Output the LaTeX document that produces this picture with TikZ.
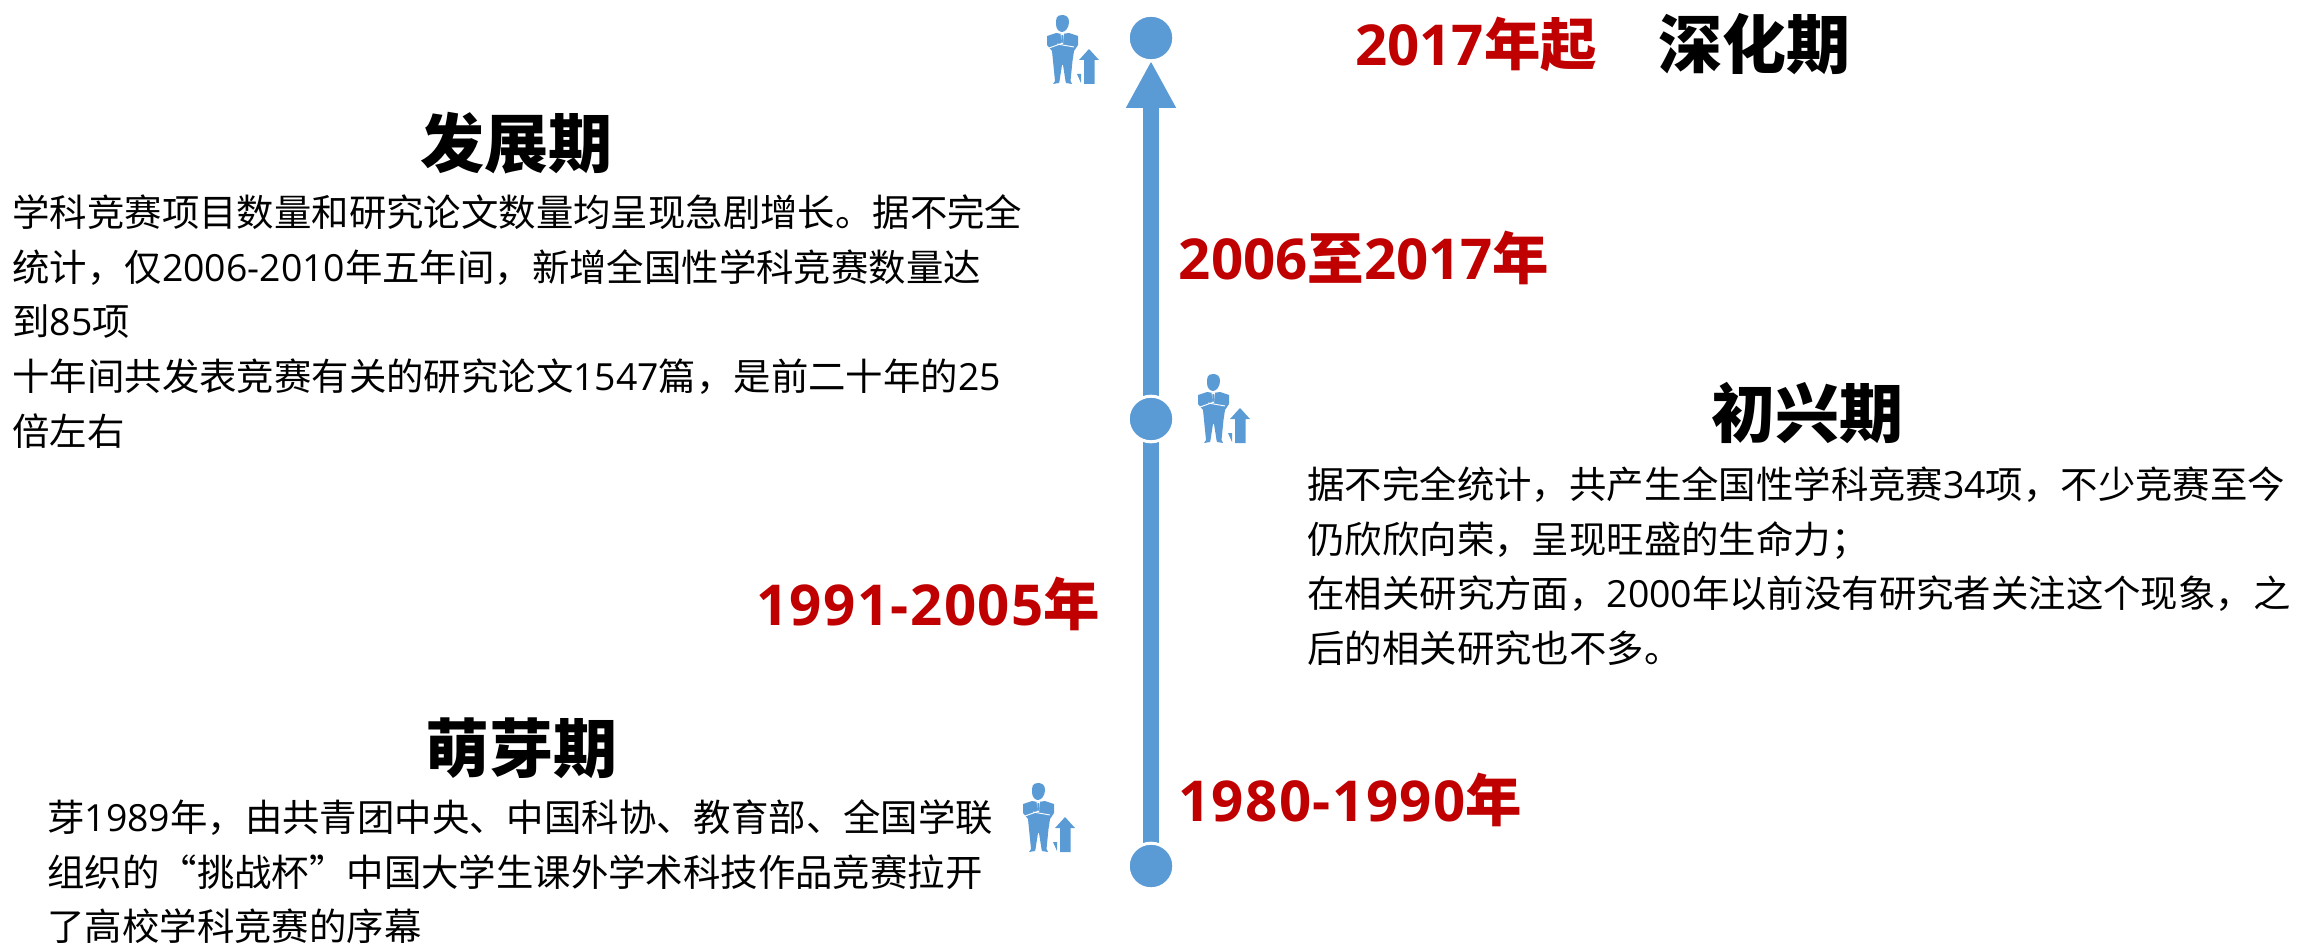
\documentclass[tikz,border=0pt]{standalone}
\usepackage{fontspec}
\setmainfont{Noto Sans CJK SC}
\newfontfamily\latinf{Open Sans}
\newfontfamily\latind[LetterSpace=2.6]{Open Sans}
\newcommand{\lat}[1]{{\latinf #1}}
\newcommand{\datenum}[1]{{\latind #1}}
\usetikzlibrary{arrows.meta,backgrounds}
\definecolor{tlblue}{HTML}{5B9BD5}
\definecolor{datered}{HTML}{C00000}
\tikzset{
  x=0.5pt,y=-0.5pt,
  dot/.style={circle,fill=tlblue,draw=white,line width=1.5pt,minimum size=22.8pt,inner sep=0pt},
  spine/.style={draw=tlblue,line width=8pt},
  title/.style={font=\fontsize{32}{36}\selectfont\bfseries,text=black,inner sep=0pt},
  datelabel/.style={font=\fontsize{28.2}{32}\selectfont\bfseries,text=datered,inner sep=0pt},
  bodytext/.style={font=\fontsize{18.7}{27.4}\selectfont,text=black,align=left,anchor=north west,inner sep=0pt},
  personicon/.pic={
    \fill[tlblue] (15,0) .. controls (9,0) and (9,4) .. (9,9) .. controls (9,14) and (12,17) .. (15,17)
      .. controls (18,17) and (22,13) .. (22,7) .. controls (22,2) and (19,0) .. (15,0) -- cycle;
    \fill[tlblue] (0,21) -- (9,18) -- (15,19) -- (22,18) -- (31,21) -- (31,30) -- (27,36) -- (25.5,46)
      -- (23.5,66) -- (25,69) -- (19,68) -- (18.5,66) -- (16,50) -- (15,50) -- (12.5,66) -- (12,68) -- (6,69) -- (8,66)
      -- (6,46) -- (5,36) -- (0,30) -- cycle;
    \draw[white,line width=0.45pt] (2,33) -- (16,28);
    \draw[white,line width=0.45pt] (10,29) -- (27,32);
    \fill[white] (13.5,18.5) -- (17,18.5) -- (16,29) -- (15,29) -- cycle;
    \fill[tlblue] (14.5,20) -- (16.2,20) -- (16.5,26) -- (15.3,28) -- (14.2,26) -- cycle;
    \fill[tlblue] (42,34) -- (52,45) -- (47.5,45) -- (47.5,69) -- (37,69) -- (37,45) -- (32,45) -- cycle;
    \fill[tlblue] (30,59) -- (34,59) -- (34,68) -- cycle;
  }
}
\begin{document}
\begin{tikzpicture}
\useasboundingbox (0,0) rectangle (2300,946);
\node[dot] (c3) at (1151,38) {};
\node[dot] (c2) at (1151,419) {};
\node[dot] (c1) at (1151,866) {};
\coordinate (tip) at (1151,61);
\begin{pgfonlayer}{background}
\draw[spine] (c1.center) -- (c2.center);
\draw[spine,-{Triangle[length=23.5pt,width=23.5pt]}] (c2.center) -- (tip);
\end{pgfonlayer}
\pic at (1047,15) {personicon};
\pic at (1198,374) {personicon};
\pic at (1023,783) {personicon};
\node[datelabel] (d4) at (1476,44) {\lat{2017}年起};
\node[title] (t4) at (1754,44) {深化期};
\node[datelabel] (d3) at (1364,258) {\lat{2006}至\lat{2017}年};
\node[datelabel] (d2) at (928,604) {\datenum{1991-2005}年};
\node[datelabel] (d1) at (1350,800) {\datenum{1980-1990}年};
\node[title] (t3) at (516,143) {发展期};
\node[bodytext] (b3) at (12,194) {学科竞赛项目数量和研究论文数量均呈现急剧增长。据不完全\\
统计，仅\lat{2006-2010}年五年间，新增全国性学科竞赛数量达\\
到\lat{85}项\\
十年间共发表竞赛有关的研究论文\lat{1547}篇，是前二十年的\lat{25}\\
倍左右};
\node[title] (t2) at (1807,413) {初兴期};
\node[bodytext] (b2) at (1307,466) {据不完全统计，共产生全国性学科竞赛\lat{34}项，不少竞赛至今\\
仍欣欣向荣，呈现旺盛的生命力；\\
在相关研究方面，\lat{2000}年以前没有研究者关注这个现象，之\\
后的相关研究也不多。};
\node[title] (t1) at (521,748) {萌芽期};
\node[bodytext] (b1) at (47,799) {芽\lat{1989}年，由共青团中央、中国科协、教育部、全国学联\\
组织的“挑战杯”中国大学生课外学术科技作品竞赛拉开\\
了高校学科竞赛的序幕};
\end{tikzpicture}
\end{document}
